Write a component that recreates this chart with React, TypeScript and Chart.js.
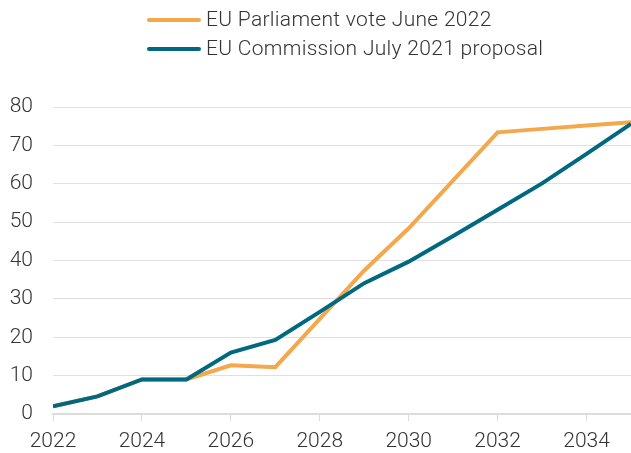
import React, { useEffect, useRef } from "react";
import { Chart, registerables } from "chart.js";

Chart.register(...registerables);

const years = [2022, 2023, 2024, 2025, 2026, 2027, 2028, 2029, 2030, 2031, 2032, 2033, 2034, 2035];
const parliament = [2, 4.6, 9, 9, 12.7, 12.2, 24.8, 37.4, 48.4, 60.9, 73.4, 74.3, 75.2, 76];
const commission = [2, 4.6, 9, 9, 16, 19.3, 26.6, 34.1, 39.7, 46.4, 53.2, 60.1, 67.8, 75.6];
const seriesNames = ["EU Parliament vote June 2022", "EU Commission July 2021 proposal"];
const seriesColors = ["#F2A84B", "#00697F"];
const xTickYears = [2022, 2024, 2026, 2028, 2030, 2032, 2034];

const FONT = "Roboto, 'Noto Sans', sans-serif";
const TEXT = "#333333";

const legendPlugin = {
  id: "customLegend",
  afterDraw(chart: any) {
    const ctx = chart.ctx;
    ctx.save();
    ctx.font = `300 21px ${FONT}`;
    (ctx as any).letterSpacing = "0.3px";
    ctx.textBaseline = "middle";
    ctx.textAlign = "left";
    const x0 = 149;
    const rows = [20, 49];
    seriesNames.forEach((name, i) => {
      const y = rows[i];
      ctx.strokeStyle = seriesColors[i];
      ctx.lineWidth = 4;
      ctx.lineCap = "round";
      ctx.beginPath();
      ctx.moveTo(x0, y);
      ctx.lineTo(x0 + 50, y);
      ctx.stroke();
      ctx.fillStyle = TEXT;
      ctx.fillText(name, 206, y + 1);
    });
    ctx.restore();
  },
};

export default function App() {
  const ref = useRef<HTMLCanvasElement | null>(null);
  useEffect(() => {
    document.body.style.margin = "0";
    const chart = new Chart(ref.current as HTMLCanvasElement, {
      type: "line",
      data: {
        datasets: [
          {
            label: seriesNames[0],
            data: years.map((x, i) => ({ x, y: parliament[i] })),
            borderColor: seriesColors[0],
            backgroundColor: seriesColors[0],
            borderWidth: 4,
            pointRadius: 0,
            tension: 0,
            order: 1,
          },
          {
            label: seriesNames[1],
            data: years.map((x, i) => ({ x, y: commission[i] })),
            borderColor: seriesColors[1],
            backgroundColor: seriesColors[1],
            borderWidth: 4,
            pointRadius: 0,
            tension: 0,
            order: 0,
          },
        ],
      },
      options: {
        animation: false,
        responsive: false,
        layout: { padding: { top: 107, left: 0, right: 0, bottom: 0 } },
        plugins: {
          legend: { display: false },
          tooltip: { enabled: false },
        },
        scales: {
          x: {
            type: "linear",
            min: 2022,
            max: 2035,
            afterBuildTicks: (axis: any) => {
              axis.ticks = xTickYears.map((v) => ({ value: v }));
            },
            afterFit: (axis: any) => {
              axis.height = 39;
            },
            ticks: {
              callback: (v: any) => String(v),
              font: { family: FONT, size: 21, weight: 300 },
              color: TEXT,
              padding: 8,
              maxRotation: 0,
            },
            grid: {
              drawOnChartArea: false,
              drawTicks: true,
              tickLength: 7,
              color: "#dcdcdc",
            },
            border: { display: true, color: "#dcdcdc", width: 2 },
          },
          y: {
            min: 0,
            max: 80,
            afterFit: (axis: any) => {
              axis.width = 53;
            },
            ticks: {
              stepSize: 10,
              font: { family: FONT, size: 21, weight: 300 },
              color: TEXT,
              padding: 20,
            },
            grid: { color: "#e0e0e0", drawTicks: false, lineWidth: 1 },
            border: { display: false },
          },
        },
      },
      plugins: [legendPlugin],
    });
    return () => chart.destroy();
  }, []);
  return (
    <div style={{ position: "absolute", left: 0, top: 0, width: 631, height: 453 }}>
      <canvas ref={ref} width={631} height={453} />
    </div>
  );
}
